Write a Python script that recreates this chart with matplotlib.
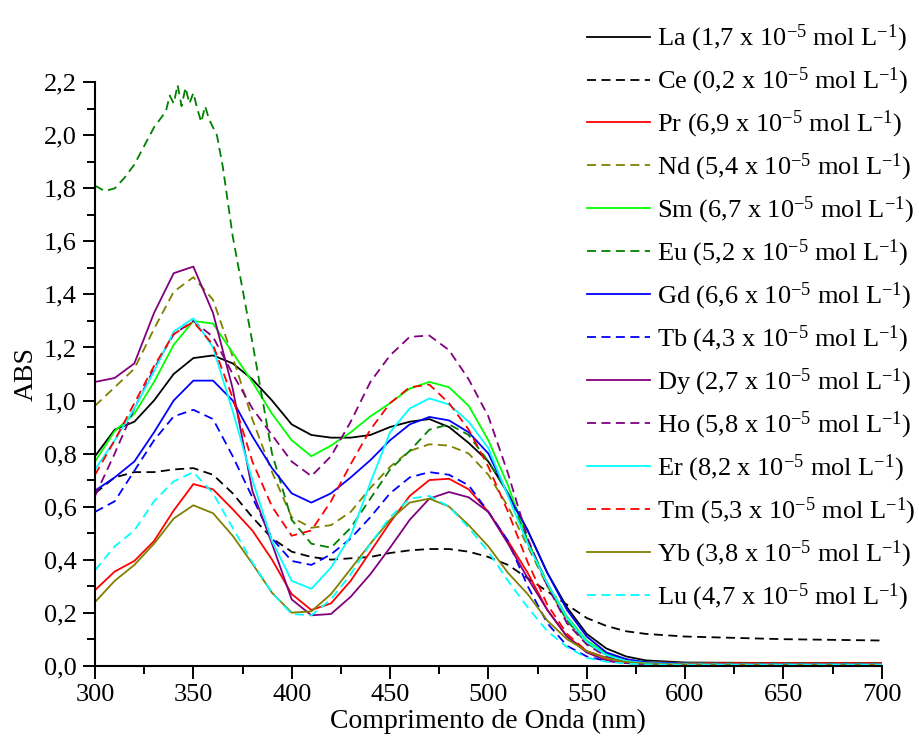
import matplotlib
matplotlib.use("Agg")
import matplotlib.pyplot as plt
from matplotlib.ticker import MultipleLocator, FuncFormatter

plt.rcParams['font.family'] = ['Liberation Serif', 'DejaVu Serif']
plt.rcParams['mathtext.fontset'] = 'custom'
plt.rcParams['mathtext.rm'] = 'Liberation Serif'
plt.rcParams['mathtext.it'] = 'Liberation Serif:italic'

# wavelength grid (nm) shared by most spectra
wl = [300, 310, 320, 330, 340, 350, 360, 370, 380, 390, 400, 410, 420, 430,
      440, 450, 460, 470, 480, 490, 500, 510, 520, 530, 540, 550, 560, 570,
      580, 600, 650, 700]

la = [0.79, 0.89, 0.92, 1.00, 1.10, 1.16, 1.17, 1.14, 1.08, 1.00, 0.91, 0.87, 0.86, 0.86,
      0.87, 0.90, 0.92, 0.93, 0.90, 0.84, 0.77, 0.65, 0.51, 0.35, 0.22, 0.12, 0.065, 0.035,
      0.02, 0.012, 0.01, 0.01]
ce = [0.65, 0.71, 0.73, 0.73, 0.74, 0.745, 0.72, 0.65, 0.56, 0.48, 0.43, 0.41, 0.40, 0.405,
      0.41, 0.425, 0.435, 0.44, 0.44, 0.43, 0.41, 0.38, 0.33, 0.28, 0.23, 0.18, 0.15, 0.13,
      0.12, 0.11, 0.10, 0.095]
pr = [0.285, 0.355, 0.395, 0.47, 0.585, 0.685, 0.665, 0.59, 0.51, 0.40, 0.27, 0.21, 0.235, 0.32,
      0.43, 0.54, 0.64, 0.70, 0.705, 0.665, 0.58, 0.47, 0.35, 0.21, 0.11, 0.055, 0.03, 0.018,
      0.014, 0.01, 0.01, 0.01]
nd = [0.98, 1.05, 1.12, 1.27, 1.41, 1.465, 1.38, 1.165, 0.93, 0.73, 0.56, 0.52, 0.53, 0.58,
      0.67, 0.75, 0.81, 0.835, 0.83, 0.80, 0.72, 0.60, 0.45, 0.30, 0.17, 0.09, 0.045, 0.02,
      0.012, 0.008, 0.005, 0.005]
sm = [0.77, 0.885, 0.95, 1.07, 1.21, 1.30, 1.29, 1.18, 1.07, 0.95, 0.85, 0.79, 0.83, 0.88,
      0.94, 0.99, 1.045, 1.07, 1.05, 0.98, 0.85, 0.68, 0.47, 0.31, 0.185, 0.095, 0.045, 0.022,
      0.013, 0.008, 0.005, 0.005]
gd = [0.66, 0.71, 0.77, 0.88, 1.00, 1.075, 1.075, 1.00, 0.865, 0.745, 0.65, 0.615, 0.65, 0.71,
      0.775, 0.85, 0.91, 0.938, 0.925, 0.88, 0.80, 0.645, 0.51, 0.35, 0.21, 0.11, 0.05, 0.025,
      0.013, 0.008, 0.005, 0.005]
tb = [0.58, 0.62, 0.735, 0.85, 0.94, 0.965, 0.93, 0.79, 0.635, 0.48, 0.395, 0.38, 0.42, 0.48,
      0.56, 0.65, 0.71, 0.73, 0.72, 0.68, 0.58, 0.47, 0.30, 0.16, 0.075, 0.035, 0.018, 0.01,
      0.008, 0.006, 0.005, 0.005]
dy = [1.07, 1.085, 1.14, 1.33, 1.48, 1.505, 1.33, 1.045, 0.66, 0.46, 0.25, 0.19, 0.195, 0.26,
      0.345, 0.445, 0.55, 0.63, 0.655, 0.635, 0.58, 0.46, 0.33, 0.21, 0.11, 0.05, 0.02, 0.01,
      0.006, 0.004, 0.003, 0.003]
ho = [0.64, 0.80, 0.97, 1.12, 1.25, 1.30, 1.24, 1.10, 0.97, 0.87, 0.77, 0.715, 0.79, 0.92,
      1.07, 1.17, 1.24, 1.245, 1.19, 1.08, 0.94, 0.725, 0.48, 0.30, 0.16, 0.08, 0.035, 0.015,
      0.008, 0.005, 0.005, 0.005]
er = [0.74, 0.85, 0.97, 1.11, 1.26, 1.31, 1.20, 0.96, 0.70, 0.47, 0.32, 0.29, 0.37, 0.49,
      0.69, 0.88, 0.97, 1.008, 0.985, 0.92, 0.82, 0.64, 0.46, 0.31, 0.18, 0.09, 0.04, 0.018,
      0.01, 0.006, 0.005, 0.005]
tm = [0.72, 0.85, 0.99, 1.13, 1.25, 1.297, 1.21, 1.01, 0.77, 0.60, 0.49, 0.51, 0.62, 0.76,
      0.89, 0.99, 1.05, 1.06, 0.99, 0.89, 0.75, 0.58, 0.39, 0.23, 0.12, 0.055, 0.025, 0.012,
      0.008, 0.006, 0.005, 0.005]
yb = [0.24, 0.32, 0.38, 0.46, 0.555, 0.605, 0.575, 0.49, 0.385, 0.275, 0.20, 0.205, 0.27, 0.365,
      0.46, 0.55, 0.615, 0.63, 0.60, 0.53, 0.45, 0.35, 0.27, 0.17, 0.10, 0.055, 0.028, 0.014,
      0.008, 0.004, 0.003, 0.003]
lu = [0.36, 0.45, 0.51, 0.62, 0.695, 0.73, 0.65, 0.52, 0.39, 0.275, 0.195, 0.19, 0.25, 0.345,
      0.46, 0.56, 0.63, 0.64, 0.60, 0.52, 0.43, 0.32, 0.22, 0.13, 0.07, 0.03, 0.015, 0.008,
      0.005, 0.004, 0.004, 0.004]

# Eu is noisy around its peak, so it gets a finer grid there
eu_wl = [300, 305, 310, 315, 320, 325, 330, 333, 336, 338, 340, 342, 344, 346, 348, 350,
         352, 354, 356, 358, 360, 362, 365, 370, 380, 390, 400, 410, 420, 430, 440, 450,
         460, 470, 480, 490, 500, 510, 520, 530, 540, 550, 560, 570, 580, 600, 650, 700]
eu = [1.81, 1.79, 1.80, 1.84, 1.89, 1.96, 2.03, 2.06, 2.09, 2.15, 2.12, 2.19, 2.11, 2.18,
      2.12, 2.16, 2.10, 2.05, 2.11, 2.06, 2.03, 2.00, 1.88, 1.62, 1.22, 0.80, 0.55, 0.46,
      0.445, 0.52, 0.63, 0.74, 0.81, 0.89, 0.91, 0.87, 0.77, 0.65, 0.47, 0.31, 0.17, 0.085,
      0.04, 0.02, 0.012, 0.008, 0.008, 0.008]

elements = ['La', 'Ce', 'Pr', 'Nd', 'Sm', 'Eu', 'Gd', 'Tb', 'Dy', 'Ho', 'Er', 'Tm', 'Yb', 'Lu']
conc = ['1,7', '0,2', '6,9', '5,4', '6,7', '5,2', '6,6', '4,3', '2,7', '5,8', '8,2', '5,3', '3,8', '4,7']
spectra = [la, ce, pr, nd, sm, eu, gd, tb, dy, ho, er, tm, yb, lu]
colors = ['black', 'black', '#ff0000', '#808000', '#00ff00', '#008000', '#0000ff',
          '#0000ff', '#800080', '#800080', '#00ffff', '#ff0000', '#808000', '#00ffff']

fig = plt.figure(figsize=(9.19, 7.40), dpi=100)
ax = fig.add_axes([0.1034, 0.1004, 0.8560, 0.7884])

for i, (el, c, y, col) in enumerate(zip(elements, conc, spectra, colors)):
    x = eu_wl if el == 'Eu' else wl
    ls = '-' if i % 2 == 0 else (0, (5, 3))
    label = el + ' (' + c + r' x 10$^{-5}$ mol L$^{-1}$)'
    ax.plot(x, y, color=col, lw=1.3, ls=ls, label=label)

ax.set_xlim(300, 700)
ax.set_ylim(0, 2.2)
ax.xaxis.set_major_locator(MultipleLocator(50))
ax.xaxis.set_minor_locator(MultipleLocator(25))
ax.yaxis.set_major_locator(MultipleLocator(0.2))
ax.yaxis.set_minor_locator(MultipleLocator(0.1))
ax.yaxis.set_major_formatter(FuncFormatter(lambda v, p: f"{v:.1f}".replace('.', ',')))

for s in ['top', 'right']:
    ax.spines[s].set_visible(False)
for s in ['left', 'bottom']:
    ax.spines[s].set_linewidth(1.5)
ax.tick_params(which='major', direction='out', length=9, width=1.4, labelsize=19, pad=4)
ax.tick_params(which='minor', direction='out', length=5.5, width=1.4)

ax.set_xlabel('Comprimento de Onda (nm)', fontsize=20, labelpad=2)
ax.set_ylabel('ABS', fontsize=20, labelpad=4)

fig.legend(loc='upper left', bbox_to_anchor=(587 / 919, 1 - 23 / 740), frameon=False,
           fontsize=19, handlelength=2.4, handletextpad=0.25, labelspacing=0.44,
           borderpad=0, borderaxespad=0)

fig.savefig('out.png', dpi=100)
